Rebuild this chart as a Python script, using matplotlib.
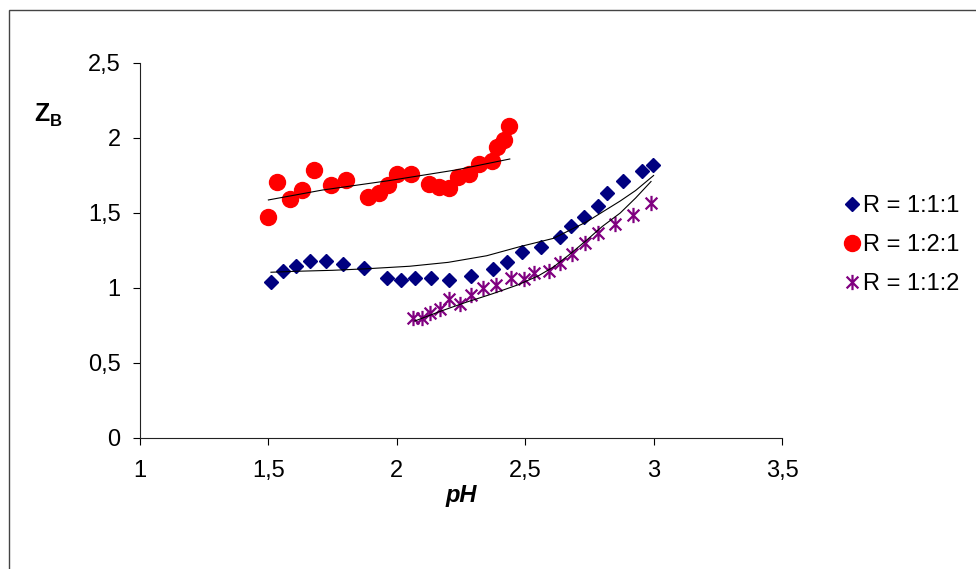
import numpy as np
import matplotlib
matplotlib.use("Agg")
import matplotlib.pyplot as plt
from matplotlib.path import Path
from matplotlib.patches import Rectangle
from matplotlib.ticker import FuncFormatter

plt.rcParams['font.family'] = ['Liberation Sans', 'DejaVu Sans']

# R = 1:1:1
ph_111 = [1.512, 1.557, 1.609, 1.661, 1.723, 1.790, 1.871, 1.963, 2.017, 2.072,
          2.134, 2.205, 2.287, 2.374, 2.430, 2.488, 2.561, 2.636, 2.678, 2.730,
          2.782, 2.817, 2.882, 2.956, 2.998]
zb_111 = [1.042, 1.116, 1.149, 1.182, 1.182, 1.160, 1.131, 1.064, 1.053, 1.064,
          1.069, 1.053, 1.080, 1.127, 1.176, 1.238, 1.276, 1.338, 1.416, 1.475,
          1.547, 1.636, 1.713, 1.780, 1.820]

# R = 1:2:1
ph_121 = [1.499, 1.534, 1.586, 1.632, 1.678, 1.742, 1.803, 1.887, 1.929, 1.965,
          2.001, 2.055, 2.124, 2.163, 2.205, 2.237, 2.280, 2.319, 2.371, 2.389,
          2.419, 2.436]
zb_121 = [1.475, 1.704, 1.591, 1.653, 1.787, 1.687, 1.720, 1.609, 1.631, 1.687,
          1.758, 1.758, 1.691, 1.671, 1.664, 1.742, 1.758, 1.827, 1.849, 1.938,
          1.987, 2.082]

# R = 1:1:2
ph_112 = [2.065, 2.098, 2.130, 2.169, 2.203, 2.247, 2.287, 2.335, 2.387, 2.445,
          2.494, 2.536, 2.594, 2.636, 2.684, 2.734, 2.782, 2.851, 2.918, 2.989]
zb_112 = [0.798, 0.802, 0.836, 0.858, 0.924, 0.893, 0.953, 1.002, 1.020, 1.064,
          1.058, 1.102, 1.116, 1.169, 1.227, 1.298, 1.364, 1.424, 1.487, 1.569]

# trend curves
fit_ph_111 = [1.51, 1.60, 1.75, 1.88, 2.05, 2.20, 2.35, 2.48, 2.61, 2.74, 2.87, 2.93, 3.00]
fit_zb_111 = [1.105, 1.111, 1.118, 1.128, 1.145, 1.171, 1.215, 1.276, 1.331, 1.442, 1.580, 1.650, 1.750]
fit_ph_121 = [1.50, 1.71, 1.97, 2.23, 2.44]
fit_zb_121 = [1.587, 1.653, 1.716, 1.787, 1.860]
fit_ph_112 = [2.07, 2.17, 2.27, 2.37, 2.47, 2.55, 2.61, 2.67, 2.74, 2.80, 2.87, 2.93, 2.99]
fit_zb_112 = [0.780, 0.845, 0.905, 0.960, 1.020, 1.080, 1.140, 1.220, 1.320, 1.410, 1.500, 1.600, 1.710]

labels = ["R = 1:1:1", "R = 1:2:1", "R = 1:1:2"]
x_ticks = [1, 1.5, 2, 2.5, 3, 3.5]
y_ticks = [0, 0.5, 1, 1.5, 2, 2.5]

W, H = 976, 569
fig = plt.figure(figsize=(W / 100, H / 100), dpi=100)
ax = fig.add_axes([140 / W, 1 - 438 / H, (782 - 140) / W, (438 - 63) / H])

# Excel-like asterisk marker
star = Path([(-1, -1), (1, 1), (-1, 1), (1, -1), (0, -1.3), (0, 1.3)],
            [Path.MOVETO, Path.LINETO, Path.MOVETO, Path.LINETO, Path.MOVETO, Path.LINETO])

ax.plot(fit_ph_111, fit_zb_111, color="black", lw=0.8, zorder=3)
ax.plot(fit_ph_121, fit_zb_121, color="black", lw=0.8, zorder=3)
ax.plot(fit_ph_112, fit_zb_112, color="black", lw=0.8, zorder=3)

h1, = ax.plot(ph_111, zb_111, ls="none", marker="D", ms=7, color="#000080",
              mec="#000080", label=labels[0], zorder=2)
h2, = ax.plot(ph_121, zb_121, ls="none", marker="o", ms=11.5, color="#FF0000",
              mec="#FF0000", label=labels[1], zorder=2)
h3, = ax.plot(ph_112, zb_112, ls="none", marker=star, ms=11, color="#800080",
              mec="#800080", mew=1.6, label=labels[2], zorder=2)

ax.set_xlim(1, 3.5)
ax.set_ylim(0, 2.5)
ax.set_xticks(x_ticks)
ax.set_yticks(y_ticks)
fmt = FuncFormatter(lambda v, p: ("%g" % v).replace(".", ","))
ax.xaxis.set_major_formatter(fmt)
ax.yaxis.set_major_formatter(fmt)
ax.tick_params(direction="out", length=5, width=0.8, labelsize=17, colors="black")
ax.tick_params(axis="x", pad=11)
ax.tick_params(axis="y", pad=9)
for s in ["top", "right"]:
    ax.spines[s].set_visible(False)
for s in ["left", "bottom"]:
    ax.spines[s].set_linewidth(0.8)
    ax.spines[s].set_color("#222222")

ax.set_xlabel("pH", fontsize=17, fontweight="bold", fontstyle="italic", labelpad=1)
fig.text(34 / W, 1 - 114 / H, "Z", fontsize=18, fontweight="bold", va="center", ha="left")
fig.text(50 / W, 1 - 121 / H, "B", fontsize=12, fontweight="bold", va="center", ha="left")

fig.legend(handles=[h1, h2, h3], loc="center left", bbox_to_anchor=(833 / W, 1 - 245 / H),
           frameon=False, fontsize=17, handlelength=0.6, handletextpad=0.15,
           labelspacing=0.72, borderpad=0, markerscale=1.0)

fig.patches.append(Rectangle((9 / W, -0.1), 1.2, 1 - 10 / H + 0.1, transform=fig.transFigure,
                             fill=False, edgecolor="#444444", lw=1))

fig.savefig("out.png", dpi=100)
